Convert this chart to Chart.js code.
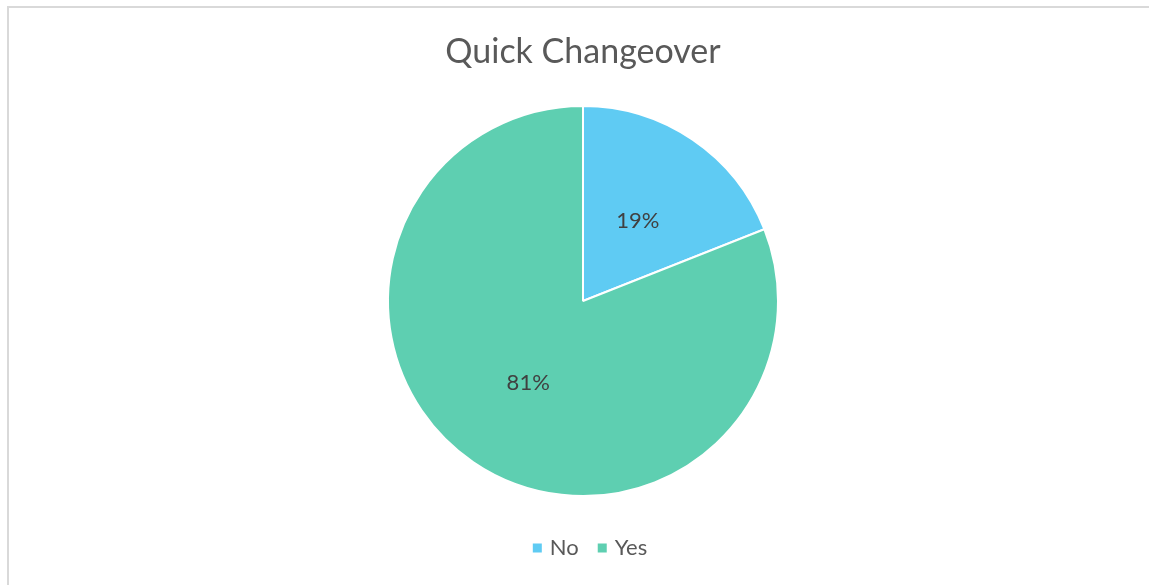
<!DOCTYPE html>
<html>
<head>
<meta charset="utf-8">
<title>Quick Changeover</title>
<script src="https://cdn.jsdelivr.net/npm/chart.js@4"></script>
<style>
  html, body { margin: 0; padding: 0; background: #fff; overflow: hidden; }
  .frame {
    position: absolute; left: 7px; top: 6px;
    width: 1300px; height: 700px;
    border: 2px solid #d9d9d9;
  }
  .wrap { position: absolute; left: 0; top: 0; width: 1149px; height: 585px; }
</style>
</head>
<body>
<div class="frame"></div>
<div class="wrap"><canvas id="pieChart"></canvas></div>
<script>
// chart data
const categories = ['No', 'Yes'];
const shares = [19, 81];
const sliceColors = ['#5fcbf3', '#5ecfb1'];

const FONT = 'Lato, "Open Sans", sans-serif';

// percentage labels in the middle of each slice
const sliceLabels = {
    id: 'sliceLabels',
    afterDatasetsDraw(chart) {
        const ctx = chart.ctx;
        const meta = chart.getDatasetMeta(0);
        const total = shares.reduce((a, b) => a + b, 0);
        ctx.save();
        ctx.font = '22px ' + FONT;
        ctx.fillStyle = '#404040';
        ctx.textAlign = 'center';
        ctx.textBaseline = 'middle';
        meta.data.forEach((arc, i) => {
            const p = arc.getCenterPoint();
            ctx.fillText(Math.round(shares[i] / total * 100) + '%', p.x, p.y + 1);
        });
        ctx.restore();
    }
};

// legend drawn under the pie, Excel style
const bottomLegend = {
    id: 'bottomLegend',
    afterDraw(chart) {
        const ctx = chart.ctx;
        const box = 9, gapText = 8, gapItem = 19;
        ctx.save();
        ctx.font = '22px ' + FONT;
        ctx.textBaseline = 'middle';
        const widths = categories.map(c => box + gapText + ctx.measureText(c).width);
        const full = widths.reduce((a, b) => a + b, 0) + gapItem * (categories.length - 1);
        let x = 590 - full / 2;
        const y = 548;
        categories.forEach((c, i) => {
            ctx.fillStyle = sliceColors[i];
            ctx.fillRect(x, y - box / 2, box, box);
            ctx.fillStyle = '#595959';
            ctx.fillText(c, x + box + gapText, y);
            x += widths[i] + gapItem;
        });
        ctx.restore();
    }
};

new Chart(document.getElementById('pieChart'), {
    type: 'pie',
    data: {
        labels: categories,
        datasets: [{
            data: shares,
            backgroundColor: sliceColors,
            borderColor: '#ffffff',
            borderWidth: 2
        }]
    },
    options: {
        responsive: true,
        maintainAspectRatio: false,
        animation: false,
        layout: {
            padding: { left: 17, right: 0, top: 0, bottom: 88 }
        },
        plugins: {
            title: {
                display: true,
                text: 'Quick Changeover',
                color: '#595959',
                font: { family: FONT, size: 34, weight: 'normal', lineHeight: 1.2 },
                padding: { top: 32, bottom: 32.2 }
            },
            legend: { display: false },
            tooltip: { enabled: false }
        }
    },
    plugins: [sliceLabels, bottomLegend]
});
</script>
</body>
</html>
